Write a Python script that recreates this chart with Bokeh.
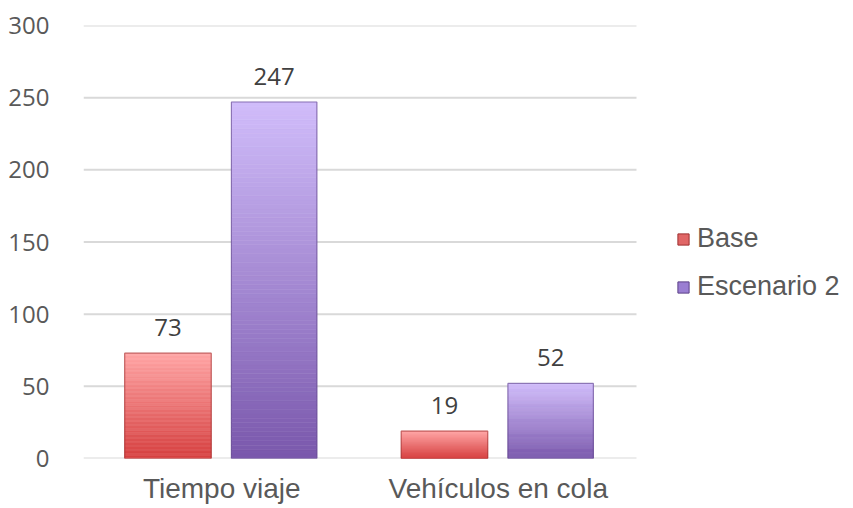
from bokeh.plotting import figure
from bokeh.models import (ColumnDataSource, FixedTicker, LabelSet,
                          Legend, LegendItem, Range1d)
from bokeh.core.properties import value
from bokeh.embed import file_html
from bokeh.resources import INLINE

# ---- data ----
categories = ["Tiempo viaje", "Vehículos en cola"]
series_names = ["Base", "Escenario 2"]
base_values = [73, 19]
escenario2_values = [247, 52]
y_ticks = [0, 50, 100, 150, 200, 250, 300]

# ---- style ----
grad_top = {"Base": (255, 165, 165), "Escenario 2": (208, 188, 250)}
grad_bot = {"Base": (214, 64, 64), "Escenario 2": (122, 88, 172)}
edge_col = {"Base": "#9E3030", "Escenario 2": "#5C4088"}
legend_col = {"Base": "#E06666", "Escenario 2": "#9A7ED2"}
offsets = {"Base": (-0.351, -0.038), "Escenario 2": (0.035, 0.344)}
N = 80
ncat = len(categories)
FRAME_W, FRAME_H = 762, 433
x_extra = FRAME_W / 276.5 - ncat  # room right of the categories for the legend

def hexc(c):
    return "#%02x%02x%02x" % tuple(int(round(v)) for v in c)

p = figure(frame_width=FRAME_W, frame_height=FRAME_H, x_range=Range1d(0, ncat + x_extra),
           y_range=Range1d(0, 300), output_backend="svg", toolbar_location=None,
           min_border_left=83, min_border_right=0, min_border_top=25,
           min_border_bottom=40)
p.outline_line_color = None
p.background_fill_color = "white"
p.border_fill_color = "white"

# horizontal gridlines only across the category area
gsrc = ColumnDataSource(dict(x0=[0] * len(y_ticks), x1=[ncat] * len(y_ticks),
                             y=y_ticks))
p.segment(x0="x0", x1="x1", y0="y", y1="y", source=gsrc,
          line_color="#D9D9D9", line_width=2)

series_values = {"Base": base_values, "Escenario 2": escenario2_values}
centers = [i + 0.5 for i in range(ncat)]

label_x, label_y, label_t = [], [], []
legend_items = []
for name in series_names:
    vals = series_values[name]
    lo, hi = offsets[name]
    left, right, bottom, top, color = [], [], [], [], []
    for cx, v in zip(centers, vals):
        for k in range(N):
            f = k / (N - 1)
            left.append(cx + lo); right.append(cx + hi)
            bottom.append(v * k / N); top.append(v * (k + 1) / N)
            c = tuple(grad_bot[name][i] + (grad_top[name][i] - grad_bot[name][i]) * f
                      for i in range(3))
            color.append(hexc(c))
        label_x.append(cx + (lo + hi) / 2); label_y.append(v); label_t.append(str(v))
    src = ColumnDataSource(dict(left=left, right=right, bottom=bottom, top=top, color=color))
    p.quad(left="left", right="right", bottom="bottom", top="top", source=src,
           fill_color="color", line_color="color", line_width=0.6)
    osrc = ColumnDataSource(dict(left=[c + lo for c in centers],
                                 right=[c + hi for c in centers],
                                 bottom=[0] * len(vals), top=vals))
    p.quad(left="left", right="right", bottom="bottom", top="top", source=osrc,
           fill_color=None, line_color=edge_col[name], line_alpha=0.6, line_width=1.2)
    lr = p.quad(left="left", right="right", bottom="bottom", top="top", source=osrc,
                fill_color=legend_col[name], line_color=edge_col[name], line_width=1)
    lr.visible = False
    legend_items.append(LegendItem(label=name, renderers=[lr]))

lsrc = ColumnDataSource(dict(x=label_x, y=label_y, t=label_t))
p.add_layout(LabelSet(x="x", y="y", text="t", source=lsrc, y_offset=17,
                      text_align="center", text_baseline="alphabetic",
                      text_font=value("Open Sans"), text_font_size="24px",
                      text_color="#404040"))

p.yaxis.ticker = FixedTicker(ticks=y_ticks)
p.xgrid.grid_line_color = None
p.ygrid.grid_line_color = None
p.yaxis.axis_line_color = None
p.yaxis.major_tick_line_color = None
p.yaxis.minor_tick_line_color = None
p.yaxis.major_label_standoff = 28
p.yaxis.major_label_text_font = "Open Sans"
p.yaxis.major_label_text_font_size = "24px"
p.yaxis.major_label_text_color = "#595959"

p.xaxis.ticker = FixedTicker(ticks=centers)
p.xaxis.major_label_overrides = {c: cat for c, cat in zip(centers, categories)}
p.xaxis.axis_line_color = None
p.xaxis.major_tick_line_color = None
p.xaxis.minor_tick_line_color = None
p.xaxis.major_label_standoff = 8
p.xaxis.major_label_text_font = "Liberation Sans"
p.xaxis.major_label_text_font_size = "28px"
p.xaxis.major_label_text_color = "#595959"

legend = Legend(items=legend_items, location=(593, 156), margin=0, padding=0,
                spacing=17, glyph_width=14, glyph_height=14, label_standoff=7,
                label_text_font="Liberation Sans", label_text_font_size="27px",
                label_text_color="#595959", border_line_color=None,
                background_fill_alpha=0)
p.add_layout(legend)

open("out.html", "w").write(file_html(p, INLINE))
